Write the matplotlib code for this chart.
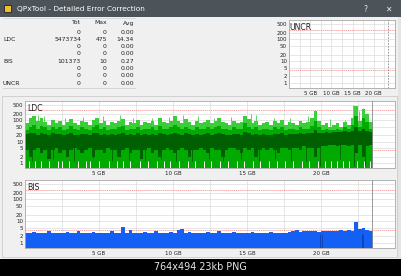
import matplotlib
matplotlib.use('Agg')
import matplotlib.pyplot as plt
from matplotlib.patches import Rectangle

W, H = 402, 276
plt.rcParams['font.family'] = ['DejaVu Sans']

# ---- data (x in GB, 0.25 GB per sample) ----
gb_step = 0.25
data_end = 23.45

ldc_top = [70, 120, 150, 90, 130, 80, 60, 100,
           70, 90, 60, 80, 110, 70, 60, 90,
           80, 60, 100, 130, 70, 90, 60, 80,
           70, 90, 110, 60, 80, 70, 100, 60,
           80, 70, 90, 60, 120, 80, 70, 90,
           150, 90, 70, 110, 80, 60, 90, 70,
           80, 100, 70, 90, 120, 80, 70, 60,
           90, 70, 80, 160, 110, 70, 90, 60,
           70, 80, 60, 90, 70, 100, 60, 80,
           70, 60, 90, 70, 80, 120, 250, 90,
           60, 70, 50, 60, 70, 50, 80, 60,
           130, 470, 90, 340, 200, 80]

ldc_mid = [35, 50, 60, 40, 55, 45, 35, 50,
           40, 45, 35, 40, 55, 40, 35, 45,
           40, 35, 50, 60, 40, 45, 35, 40,
           40, 45, 55, 35, 40, 40, 50, 35,
           40, 40, 45, 35, 55, 40, 40, 45,
           60, 45, 40, 50, 40, 35, 45, 40,
           40, 50, 40, 45, 55, 40, 40, 35,
           45, 40, 40, 70, 50, 40, 45, 35,
           40, 40, 35, 45, 40, 50, 35, 40,
           40, 35, 45, 40, 40, 55, 90, 45,
           35, 40, 35, 35, 40, 35, 45, 40,
           60, 150, 45, 120, 80, 40]

ldc_dark_hi = [22, 25, 24, 20, 26, 22, 21, 24,
               22, 23, 20, 22, 25, 21, 20, 23,
               22, 20, 24, 26, 21, 23, 20, 22,
               21, 23, 25, 20, 22, 21, 24, 20,
               22, 21, 23, 20, 25, 22, 21, 23,
               26, 23, 21, 24, 22, 20, 23, 21,
               22, 24, 21, 23, 25, 22, 21, 20,
               23, 22, 21, 28, 24, 21, 23, 20,
               22, 21, 20, 23, 22, 24, 21, 22,
               23, 22, 24, 23, 24, 26, 35, 25,
               26, 27, 26, 28, 29, 28, 30, 29,
               32, 45, 30, 40, 32, 28]

ldc_dark_lo = [4, 2, 4, 5, 3, 4, 1.5, 4,
               5, 3, 4, 2, 4, 5, 4, 3,
               4, 5, 2, 4, 4, 3, 5, 4,
               4, 2, 4, 5, 3, 4, 4, 1.5,
               4, 5, 3, 4, 2, 4, 5, 4,
               3, 4, 5, 4, 2, 4, 4, 5,
               4, 3, 5, 4, 4, 2, 4, 5,
               5, 4, 3, 5, 4, 5, 2, 4,
               5, 4, 5, 4, 3, 5, 5, 4,
               5, 5, 4, 6, 5, 5, 2, 5,
               6, 6, 7, 7, 6, 7, 7, 6,
               7, 3, 7, 2, 6, 7]

# thin single-sample spikes above the green band
ldc_spike_x = [0.9, 1.3, 2.7, 3.9, 5.3, 6.4, 7.3, 8.6, 9.7, 10.7, 11.7, 12.8,
               13.9, 15.3, 15.6, 16.8, 17.9, 19.1, 19.6, 20.6, 21.6, 22.15,
               22.6, 22.85, 23.1]
ldc_spike_v = [180, 160, 130, 140, 150, 170, 120, 130, 140, 180, 150, 130,
               140, 200, 170, 120, 130, 160, 270, 110, 100, 480, 250, 350, 220]

# thin dark stripes reaching down into the lower part
ldc_dark_x = [0.5, 1.9, 3.3, 4.6, 5.9, 7.0, 8.1, 9.2, 10.2, 11.3, 12.4, 13.4,
              14.6, 15.8, 16.9, 18.0, 19.0, 19.9, 21.3, 22.2, 22.95]
ldc_dark_v = [1.2, 1.5, 1.2, 1.8, 1.2, 1.4, 1.2, 1.6, 1.2, 1.3, 1.5, 1.2,
              1.4, 1.2, 1.6, 1.3, 1.2, 0.7, 1.5, 0.7, 0.7]

# white gaps at the very bottom of the LDC graph (GB positions)
ldc_gaps = [0.3, 0.7, 1.1, 1.6, 2.2, 2.5, 3.0, 3.6, 4.1, 4.4, 5.0, 5.7, 6.2,
            6.6, 7.1, 7.8, 8.3, 8.9, 9.4, 9.8, 10.4, 11.0, 11.5, 12.1, 12.6,
            13.2, 13.7, 14.3, 14.8, 15.4, 15.9, 16.5, 17.0, 17.6, 18.1, 18.7,
            19.2, 19.8, 20.3, 20.7, 21.1, 21.5, 21.9, 22.4, 22.9, 23.3]

bis_vals = [3, 3, 3.2, 2.8, 3, 3, 3.5, 3,
            3, 2.8, 3, 3.2, 3, 3, 3.5, 3,
            3, 3, 3.2, 3, 2.8, 3, 3, 3.6,
            3, 3, 5.5, 3, 4, 3, 3, 3,
            3.2, 3, 3, 3.5, 3, 3, 3, 3.2,
            3, 3.8, 4.5, 3, 3.2, 3, 3, 3,
            3, 3.2, 3, 3, 3.5, 3, 3, 3,
            3.2, 3, 3, 3, 3, 3.3, 3, 3,
            3, 3, 3.2, 3, 3, 3, 3, 3.2,
            3.5, 3.8, 3.3, 3.5, 3.6, 3.4, 3.5, 3.3,
            3.5, 3.4, 3.6, 3.5, 3.4, 3.8, 3.5, 4,
            3.5, 9.5, 4.5, 5, 4, 3.5]
bis_dark_x = [19.9, 20.05, 22.75, 22.85]

y_ticks = [1, 2, 5, 10, 20, 50, 100, 200, 500]
x_ticks = [5, 10, 15, 20]
x_labels = ['5 GB', '10 GB', '15 GB', '20 GB']
red_lines = [280, 4]

table_head = ['Tot', 'Max', 'Avg']
table_rows = [('', '0', '0', '0.00'),
              ('LDC', '5473734', '475', '14.34'),
              ('', '0', '0', '0.00'),
              ('', '0', '0', '0.00'),
              ('BIS', '101373', '10', '0.27'),
              ('', '0', '0', '0.00'),
              ('', '0', '0', '0.00'),
              ('UNCR', '0', '0', '0.00')]

fig = plt.figure(figsize=(W / 100, H / 100), dpi=100)
fig.patch.set_facecolor('#f0f0f0')


def fx(x):
    return x / W


def fy(y):
    return 1 - y / H


def rect(x0, y0, x1, y1, **kw):
    fig.patches.append(Rectangle((fx(x0), fy(y1)), (x1 - x0) / W, (y1 - y0) / H,
                                 transform=fig.transFigure, **kw))


# window chrome
rect(0, 0, 402, 17, facecolor='#4c5459', edgecolor='none')
rect(398, 17, 402, 259, facecolor='#e4e4e4', edgecolor='none')
rect(0, 259, 402, 276, facecolor='#000000', edgecolor='none')
rect(2.5, 96, 397, 257, facecolor='none', edgecolor='#c4c4c4', linewidth=0.5)
rect(4, 5, 11, 12, facecolor='#e8c030', edgecolor='#222222', linewidth=0.6)
fig.text(fx(17), fy(9), 'QPxTool - Detailed Error Correction', color='white',
         fontsize=5.3, va='center', ha='left')
fig.text(fx(365), fy(9), '?', color='#e8e8e8', fontsize=5.5, va='center', ha='center')
fig.text(fx(388), fy(9), '✕', color='#e8e8e8', fontsize=5.5, va='center', ha='center')
fig.text(fx(200), fy(267.5), '764x494 23kb PNG', color='#e6e6e6',
         fontsize=6.9, va='center', ha='center')

# stats table
col_right = [81, 107, 134]
for cx, t in zip(col_right, table_head):
    fig.text(fx(cx), fy(23), t, fontsize=4.4, ha='right', va='center', color='#222222')
for i, (lab, tot, mx, avg) in enumerate(table_rows):
    yy = 32 + i * 7.3
    if lab:
        fig.text(fx(3), fy(yy), lab, fontsize=4.4, ha='left', va='center', color='#222222')
    for cx, t in zip(col_right, (tot, mx, avg)):
        fig.text(fx(cx), fy(yy), t, fontsize=4.4, ha='right', va='center', color='#222222')
fig.lines.append(plt.Line2D([fx(3), fx(135)], [fy(18), fy(18)], transform=fig.transFigure,
                            color='#d0d0d0', lw=0.5))
fig.lines.append(plt.Line2D([fx(3), fx(135)], [fy(87.5), fy(87.5)], transform=fig.transFigure,
                            color='#c8c8c8', lw=0.5))


def panel(x0, y0, x1, y1, label, data_end_style='-'):
    ax = fig.add_axes([fx(x0), fy(y1), (x1 - x0) / W, (y1 - y0) / H])
    ax.set_facecolor('white')
    ax.set_yscale('log')
    ax.set_ylim(0.585, 770)
    ax.set_xlim(0, 25)
    ax.set_yticks(y_ticks, [str(v) for v in y_ticks])
    ax.set_xticks(x_ticks, x_labels)
    ax.minorticks_off()
    ax.tick_params(length=0, labelsize=4.0, pad=1.5, colors='#222222')
    ax.tick_params(axis='x', pad=2.5)
    for s in ax.spines.values():
        s.set_color('#a8a8a8')
        s.set_linewidth(0.6)
    for v in y_ticks:
        ax.axhline(v, color='#dcdcdc', lw=0.5, zorder=0.5)
    for g in [2.5 * k for k in range(1, 10)]:
        ax.axvline(g, color='#dcdcdc', lw=0.5, zorder=0.5)
    for r in red_lines:
        ax.axhline(r, color='#f08a8a', lw=0.5, ls=(0, (2, 1)), zorder=0.8)
    ax.axvline(data_end, color='#8c8c8c', lw=0.6, ls=data_end_style, zorder=4)
    ax.text(0.006, 0.95, label, transform=ax.transAxes, fontsize=5.6, ha='left', va='top',
            color='#222222', zorder=5)
    return ax


xs = [gb_step * (i + 0.5) for i in range(len(ldc_top))]
base = 0.5

# UNCR (empty)
ax_u = panel(289, 20, 395, 88, 'UNCR', data_end_style=(0, (2, 1.5)))

# LDC
ax_l = panel(25, 101, 395, 168, 'LDC')
ax_l.bar(xs, [v - base for v in ldc_top], bottom=base, width=gb_step,
         color='#3acd3a', linewidth=0, zorder=2)
ax_l.vlines(ldc_spike_x, base, ldc_spike_v, color='#45d045', lw=0.6, zorder=2)
ax_l.bar(xs, [v - base for v in ldc_mid], bottom=base, width=gb_step,
         color='#00aa00', linewidth=0, zorder=2.1)
ax_l.bar(xs, [h - l for h, l in zip(ldc_dark_hi, ldc_dark_lo)], bottom=ldc_dark_lo,
         width=gb_step, color='#005f00', linewidth=0, zorder=2.2)
ax_l.vlines(ldc_dark_x, ldc_dark_v, 12, color='#005f00', lw=0.6, zorder=2.25)
ax_l.vlines(ldc_gaps, 0.5, 1.3, color='white', lw=0.7, zorder=2.3)

# BIS
ax_b = panel(25, 180, 395, 248, 'BIS')
ax_b.bar(xs, [v - base for v in bis_vals], bottom=base, width=gb_step,
         color='#1460f5', linewidth=0, zorder=2)
ax_b.vlines(bis_dark_x, base, 2.5, color='#0a3fb0', lw=0.6, zorder=2.1)

fig.savefig('out.png', dpi=100, facecolor=fig.get_facecolor())
